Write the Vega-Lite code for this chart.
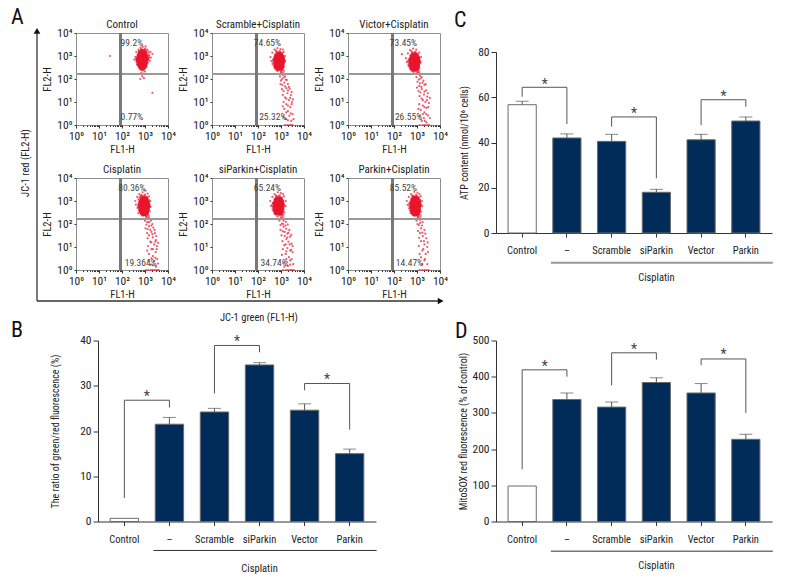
{"$schema":"https://vega.github.io/schema/vega-lite/v6.json","padding":{"left":11,"top":5,"right":0,"bottom":0},"background":"white","config":{"font":"Roboto Condensed, Lato, sans-serif","view":{"stroke":null},"axis":{"grid":false,"labelFontSize":10.5,"titleFontSize":10,"titleFontWeight":"normal","labelColor":"#222","titleColor":"#222","domainColor":"#333","tickColor":"#333","labelOverlap":false,"labelFlush":false},"title":{"fontWeight":"normal","fontSize":22,"color":"#111"}},"datasets":{"bars":[{"panel":"B","g":"Control","v":0.7,"top":0.7},{"panel":"B","g":"–","v":21.5,"top":23},{"panel":"B","g":"Scramble","v":24.2,"top":25},{"panel":"B","g":"siParkin","v":34.6,"top":35.1},{"panel":"B","g":"Vector","v":24.6,"top":26},{"panel":"B","g":"Parkin","v":15,"top":16},{"panel":"C","g":"Control","v":56.7,"top":58.2},{"panel":"C","g":"–","v":42,"top":43.8},{"panel":"C","g":"Scramble","v":40.5,"top":43.6},{"panel":"C","g":"siParkin","v":18,"top":19.3},{"panel":"C","g":"Vector","v":41.2,"top":43.6},{"panel":"C","g":"Parkin","v":49.5,"top":51.3},{"panel":"D","g":"Control","v":98,"top":98},{"panel":"D","g":"–","v":337,"top":355},{"panel":"D","g":"Scramble","v":316,"top":330},{"panel":"D","g":"siParkin","v":384,"top":397},{"panel":"D","g":"Vector","v":355,"top":381},{"panel":"D","g":"Parkin","v":227,"top":241}],"brackets":[{"panel":"B","id":1,"i":0,"g":"Control","v":5.2},{"panel":"B","id":1,"i":1,"g":"Control","v":26.8},{"panel":"B","id":1,"i":2,"g":"–","v":26.8},{"panel":"B","id":1,"i":3,"g":"–","v":25.2},{"panel":"B","id":2,"i":0,"g":"Scramble","v":28.3},{"panel":"B","id":2,"i":1,"g":"Scramble","v":38.9},{"panel":"B","id":2,"i":2,"g":"siParkin","v":38.9},{"panel":"B","id":2,"i":3,"g":"siParkin","v":37.4},{"panel":"B","id":3,"i":0,"g":"Vector","v":29},{"panel":"B","id":3,"i":1,"g":"Vector","v":30.5},{"panel":"B","id":3,"i":2,"g":"Parkin","v":30.5},{"panel":"B","id":3,"i":3,"g":"Parkin","v":20.3},{"panel":"C","id":1,"i":0,"g":"Control","v":60.2},{"panel":"C","id":1,"i":1,"g":"Control","v":64.4},{"panel":"C","id":1,"i":2,"g":"–","v":64.4},{"panel":"C","id":1,"i":3,"g":"–","v":48.2},{"panel":"C","id":2,"i":0,"g":"Scramble","v":47},{"panel":"C","id":2,"i":1,"g":"Scramble","v":51.3},{"panel":"C","id":2,"i":2,"g":"siParkin","v":51.3},{"panel":"C","id":2,"i":3,"g":"siParkin","v":24.2},{"panel":"C","id":3,"i":0,"g":"Vector","v":47.7},{"panel":"C","id":3,"i":1,"g":"Vector","v":58.9},{"panel":"C","id":3,"i":2,"g":"Parkin","v":58.9},{"panel":"C","id":3,"i":3,"g":"Parkin","v":55.8},{"panel":"D","id":1,"i":0,"g":"Control","v":144},{"panel":"D","id":1,"i":1,"g":"Control","v":419},{"panel":"D","id":1,"i":2,"g":"–","v":419},{"panel":"D","id":1,"i":3,"g":"–","v":400},{"panel":"D","id":2,"i":0,"g":"Scramble","v":376},{"panel":"D","id":2,"i":1,"g":"Scramble","v":466},{"panel":"D","id":2,"i":2,"g":"siParkin","v":466},{"panel":"D","id":2,"i":3,"g":"siParkin","v":447},{"panel":"D","id":3,"i":0,"g":"Vector","v":432},{"panel":"D","id":3,"i":1,"g":"Vector","v":449},{"panel":"D","id":3,"i":2,"g":"Parkin","v":449},{"panel":"D","id":3,"i":3,"g":"Parkin","v":300}],"stars":[{"panel":"B","g":"Control","v":27.5},{"panel":"B","g":"Scramble","v":39.6},{"panel":"B","g":"Vector","v":31.2},{"panel":"C","g":"Control","v":65.5},{"panel":"C","g":"Scramble","v":52.5},{"panel":"C","g":"Vector","v":60},{"panel":"D","g":"Control","v":428},{"panel":"D","g":"Scramble","v":475},{"panel":"D","g":"Vector","v":460}],"flow":[
{"p":1,"a":500,"b":1100},{"p":1,"a":580,"b":1350},{"p":1,"a":660,"b":1800},{"p":1,"a":900,"b":1800},{"p":1,"a":1100,"b":1250},{"p":1,"a":1300,"b":1050},{"p":1,"a":1350,"b":700},{"p":1,"a":1200,"b":550},{"p":1,"a":480,"b":480},{"p":1,"a":620,"b":330},{"p":1,"a":830,"b":330},{"p":1,"a":430,"b":750},{"p":1,"a":1500,"b":800},{"p":1,"a":700,"b":2000},{"p":1,"a":950,"b":300},{"p":1,"a":1000,"b":1800},{"p":1,"a":540,"b":500},{"p":1,"a":1450,"b":950},
{"p":2,"a":460,"b":700},{"p":2,"a":540,"b":1100},{"p":2,"a":640,"b":1500},{"p":2,"a":900,"b":1600},{"p":2,"a":1100,"b":1300},{"p":2,"a":1250,"b":950},{"p":2,"a":1350,"b":650},{"p":2,"a":1250,"b":400},{"p":2,"a":480,"b":380},{"p":2,"a":640,"b":260},{"p":2,"a":860,"b":250},{"p":2,"a":1100,"b":270},{"p":2,"a":900,"b":130},{"p":2,"a":1000,"b":85},{"p":2,"a":1300,"b":115},{"p":2,"a":1600,"b":95},{"p":2,"a":950,"b":60},{"p":2,"a":1500,"b":48},{"p":2,"a":2200,"b":45},{"p":2,"a":1100,"b":36},{"p":2,"a":2000,"b":32},{"p":2,"a":2900,"b":27},{"p":2,"a":1200,"b":20},{"p":2,"a":1700,"b":14},{"p":2,"a":2500,"b":15},{"p":2,"a":3300,"b":13},{"p":2,"a":1300,"b":10},{"p":2,"a":2000,"b":7},{"p":2,"a":2900,"b":8},{"p":2,"a":1200,"b":6.5},{"p":2,"a":1700,"b":3.5},{"p":2,"a":2600,"b":3.2},{"p":2,"a":1300,"b":2.2},{"p":2,"a":2000,"b":1.6},{"p":2,"a":3500,"b":1.8},
{"p":3,"a":430,"b":650},{"p":3,"a":510,"b":1050},{"p":3,"a":610,"b":1400},{"p":3,"a":860,"b":1500},{"p":3,"a":1050,"b":1200},{"p":3,"a":1200,"b":900},{"p":3,"a":1300,"b":620},{"p":3,"a":1200,"b":380},{"p":3,"a":450,"b":350},{"p":3,"a":600,"b":240},{"p":3,"a":820,"b":230},{"p":3,"a":1050,"b":250},{"p":3,"a":950,"b":120},{"p":3,"a":1050,"b":75},{"p":3,"a":1400,"b":105},{"p":3,"a":1750,"b":70},{"p":3,"a":1000,"b":42},{"p":3,"a":1550,"b":45},{"p":3,"a":2400,"b":60},{"p":3,"a":1150,"b":30},{"p":3,"a":2100,"b":28},{"p":3,"a":3000,"b":24},{"p":3,"a":1300,"b":18},{"p":3,"a":1800,"b":12},{"p":3,"a":2700,"b":12},{"p":3,"a":3600,"b":15},{"p":3,"a":1250,"b":8},{"p":3,"a":2100,"b":6},{"p":3,"a":3100,"b":6},{"p":3,"a":1150,"b":5},{"p":3,"a":1800,"b":3},{"p":3,"a":2500,"b":3},{"p":3,"a":1350,"b":2.4},{"p":3,"a":2200,"b":1.5},{"p":3,"a":3600,"b":2},
{"p":4,"a":520,"b":1200},{"p":4,"a":600,"b":1450},{"p":4,"a":700,"b":1800},{"p":4,"a":1000,"b":1900},{"p":4,"a":1250,"b":1400},{"p":4,"a":1450,"b":1100},{"p":4,"a":1500,"b":750},{"p":4,"a":1450,"b":420},{"p":4,"a":560,"b":400},{"p":4,"a":700,"b":300},{"p":4,"a":950,"b":260},{"p":4,"a":1300,"b":280},{"p":4,"a":1000,"b":140},{"p":4,"a":1150,"b":95},{"p":4,"a":1500,"b":120},{"p":4,"a":1900,"b":85},{"p":4,"a":1050,"b":65},{"p":4,"a":1700,"b":55},{"p":4,"a":2600,"b":55},{"p":4,"a":1250,"b":40},{"p":4,"a":2100,"b":36},{"p":4,"a":3100,"b":30},{"p":4,"a":1300,"b":24},{"p":4,"a":1900,"b":16},{"p":4,"a":2800,"b":17},{"p":4,"a":3700,"b":15},{"p":4,"a":1350,"b":11},{"p":4,"a":2200,"b":8},{"p":4,"a":3200,"b":8},{"p":4,"a":1250,"b":7},{"p":4,"a":1900,"b":3.2},{"p":4,"a":2800,"b":3.4},{"p":4,"a":1400,"b":2.6},{"p":4,"a":2200,"b":1.6},{"p":4,"a":3700,"b":1.9},
{"p":5,"a":440,"b":800},{"p":5,"a":520,"b":1200},{"p":5,"a":620,"b":1600},{"p":5,"a":880,"b":1750},{"p":5,"a":1100,"b":1400},{"p":5,"a":1250,"b":1050},{"p":5,"a":1350,"b":720},{"p":5,"a":1300,"b":420},{"p":5,"a":470,"b":370},{"p":5,"a":620,"b":260},{"p":5,"a":850,"b":240},{"p":5,"a":1150,"b":260},{"p":5,"a":850,"b":140},{"p":5,"a":950,"b":90},{"p":5,"a":1250,"b":100},{"p":5,"a":1550,"b":85},{"p":5,"a":950,"b":55},{"p":5,"a":1450,"b":45},{"p":5,"a":2100,"b":42},{"p":5,"a":1050,"b":32},{"p":5,"a":1900,"b":26},{"p":5,"a":2800,"b":34},{"p":5,"a":1150,"b":18},{"p":5,"a":1600,"b":13},{"p":5,"a":2400,"b":13},{"p":5,"a":3200,"b":11},{"p":5,"a":1200,"b":8},{"p":5,"a":1700,"b":6.5},{"p":5,"a":2800,"b":7.5},{"p":5,"a":1100,"b":4.5},{"p":5,"a":1700,"b":3},{"p":5,"a":2500,"b":2.6},{"p":5,"a":1250,"b":2},{"p":5,"a":2000,"b":1.5},{"p":5,"a":3400,"b":1.8},
{"p":6,"a":470,"b":800},{"p":6,"a":560,"b":1200},{"p":6,"a":660,"b":1600},{"p":6,"a":950,"b":1800},{"p":6,"a":1150,"b":1450},{"p":6,"a":1350,"b":1100},{"p":6,"a":1450,"b":720},{"p":6,"a":1350,"b":400},{"p":6,"a":500,"b":390},{"p":6,"a":660,"b":280},{"p":6,"a":900,"b":250},{"p":6,"a":1250,"b":270},{"p":6,"a":950,"b":140},{"p":6,"a":1050,"b":100},{"p":6,"a":1350,"b":110},{"p":6,"a":1650,"b":85},{"p":6,"a":1100,"b":50},{"p":6,"a":1700,"b":42},{"p":6,"a":2300,"b":38},{"p":6,"a":1250,"b":25},{"p":6,"a":2000,"b":18},{"p":6,"a":2900,"b":16},{"p":6,"a":1200,"b":11},{"p":6,"a":1900,"b":8},{"p":6,"a":3000,"b":6},{"p":6,"a":1300,"b":5},{"p":6,"a":2200,"b":3},{"p":6,"a":1700,"b":1.8},
{"p":1,"a":520,"b":900,"k":2},{"p":1,"a":1050,"b":950,"k":2},{"p":1,"a":560,"b":600,"k":2},{"p":1,"a":1050,"b":600,"k":2},{"p":1,"a":620,"b":1400,"k":2},{"p":1,"a":950,"b":1400,"k":2},{"p":1,"a":600,"b":420,"k":2},{"p":1,"a":950,"b":430,"k":2},{"p":1,"a":760,"b":1600,"k":2},{"p":1,"a":480,"b":700,"k":2},{"p":1,"a":1150,"b":720,"k":2},{"p":1,"a":760,"b":280,"k":2},
{"p":2,"a":580,"b":800,"k":2},{"p":2,"a":1150,"b":780,"k":2},{"p":2,"a":600,"b":480,"k":2},{"p":2,"a":1150,"b":480,"k":2},{"p":2,"a":680,"b":1150,"k":2},{"p":2,"a":1000,"b":1150,"k":2},{"p":2,"a":700,"b":280,"k":2},{"p":2,"a":1000,"b":290,"k":2},{"p":2,"a":830,"b":1350,"k":2},{"p":2,"a":520,"b":620,"k":2},{"p":2,"a":1250,"b":620,"k":2},{"p":2,"a":1150,"b":220,"k":2},
{"p":3,"a":540,"b":740,"k":2},{"p":3,"a":1080,"b":720,"k":2},{"p":3,"a":560,"b":440,"k":2},{"p":3,"a":1080,"b":440,"k":2},{"p":3,"a":640,"b":1070,"k":2},{"p":3,"a":950,"b":1070,"k":2},{"p":3,"a":650,"b":260,"k":2},{"p":3,"a":950,"b":270,"k":2},{"p":3,"a":780,"b":1250,"k":2},{"p":3,"a":480,"b":570,"k":2},{"p":3,"a":1180,"b":570,"k":2},{"p":3,"a":1100,"b":200,"k":2},
{"p":4,"a":640,"b":900,"k":2},{"p":4,"a":1270,"b":900,"k":2},{"p":4,"a":650,"b":500,"k":2},{"p":4,"a":1280,"b":500,"k":2},{"p":4,"a":750,"b":1300,"k":2},{"p":4,"a":1100,"b":1300,"k":2},{"p":4,"a":750,"b":290,"k":2},{"p":4,"a":1150,"b":290,"k":2},{"p":4,"a":910,"b":1500,"k":2},{"p":4,"a":570,"b":660,"k":2},{"p":4,"a":1380,"b":660,"k":2},{"p":4,"a":1300,"b":210,"k":2},
{"p":5,"a":540,"b":820,"k":2},{"p":5,"a":1080,"b":800,"k":2},{"p":5,"a":560,"b":500,"k":2},{"p":5,"a":1080,"b":500,"k":2},{"p":5,"a":640,"b":1200,"k":2},{"p":5,"a":950,"b":1200,"k":2},{"p":5,"a":650,"b":300,"k":2},{"p":5,"a":950,"b":300,"k":2},{"p":5,"a":780,"b":1400,"k":2},{"p":5,"a":480,"b":640,"k":2},{"p":5,"a":1180,"b":640,"k":2},{"p":5,"a":1100,"b":230,"k":2},
{"p":6,"a":600,"b":900,"k":2},{"p":6,"a":1180,"b":880,"k":2},{"p":6,"a":610,"b":500,"k":2},{"p":6,"a":1180,"b":500,"k":2},{"p":6,"a":700,"b":1280,"k":2},{"p":6,"a":1030,"b":1280,"k":2},{"p":6,"a":700,"b":290,"k":2},{"p":6,"a":1030,"b":290,"k":2},{"p":6,"a":850,"b":1500,"k":2},{"p":6,"a":530,"b":660,"k":2},{"p":6,"a":1280,"b":660,"k":2},{"p":6,"a":1250,"b":220,"k":2},
{"p":1,"a":270,"b":3800,"t":"99.2%"},{"p":1,"a":270,"b":2.2,"t":"0.77%"},{"p":2,"a":257,"b":3800,"t":"74.65%"},{"p":2,"a":440,"b":2.2,"t":"25.32%"},{"p":3,"a":257,"b":3800,"t":"73.45%"},{"p":3,"a":430,"b":2.2,"t":"26.55%"},{"p":4,"a":270,"b":3800,"t":"80.36%"},{"p":4,"a":650,"b":2,"t":"19.364%"},{"p":5,"a":257,"b":3800,"t":"65.24%"},{"p":5,"a":500,"b":2,"t":"34.74%"},{"p":6,"a":257,"b":3800,"t":"85.52%"},{"p":6,"a":470,"b":2,"t":"14.47%"},
{"p":1,"a":420,"b":1500},{"p":1,"a":520,"b":1900},{"p":1,"a":640,"b":2300},{"p":1,"a":800,"b":2500},{"p":1,"a":1000,"b":2100},{"p":1,"a":1300,"b":1700},{"p":1,"a":1700,"b":1500},{"p":1,"a":2100,"b":1250},{"p":1,"a":480,"b":1150},{"p":1,"a":380,"b":900},{"p":1,"a":340,"b":700},{"p":1,"a":430,"b":550},{"p":1,"a":1500,"b":1100},{"p":1,"a":1800,"b":850},{"p":1,"a":1600,"b":620},{"p":1,"a":1300,"b":500},{"p":1,"a":1150,"b":340},{"p":1,"a":1400,"b":1400},{"p":1,"a":560,"b":380},{"p":1,"a":450,"b":420},{"p":1,"a":600,"b":280},{"p":1,"a":760,"b":240},{"p":1,"a":900,"b":260},{"p":1,"a":1000,"b":210},{"p":1,"a":680,"b":180},{"p":1,"a":820,"b":170},{"p":1,"a":760,"b":130},{"p":1,"a":900,"b":110},{"p":1,"a":620,"b":100},{"p":1,"a":1200,"b":1900},{"p":1,"a":560,"b":1600},{"p":1,"a":1100,"b":1500},{"p":1,"a":1250,"b":800},{"p":1,"a":520,"b":800},{"p":1,"a":500,"b":600},{"p":1,"a":1100,"b":400},{"p":1,"a":1050,"b":2600},{"p":1,"a":30,"b":1000},{"p":1,"a":2100,"b":25},
{"p":2,"a":350,"b":900},{"p":2,"a":420,"b":1400},{"p":2,"a":520,"b":1900},{"p":2,"a":700,"b":2200},{"p":2,"a":950,"b":2000},{"p":2,"a":1300,"b":1500},{"p":2,"a":1500,"b":1000},{"p":2,"a":1500,"b":600},{"p":2,"a":430,"b":450},{"p":2,"a":380,"b":600},{"p":2,"a":600,"b":1700},{"p":2,"a":1200,"b":1900},{"p":2,"a":520,"b":300},{"p":2,"a":1300,"b":350},{"p":2,"a":700,"b":220},{"p":2,"a":1000,"b":200},{"p":2,"a":1200,"b":150},{"p":2,"a":1500,"b":130},{"p":2,"a":1100,"b":100},{"p":2,"a":1800,"b":90},{"p":2,"a":1400,"b":70},{"p":2,"a":2000,"b":60},{"p":2,"a":1150,"b":55},{"p":2,"a":1700,"b":40},{"p":2,"a":2400,"b":38},{"p":2,"a":1300,"b":30},{"p":2,"a":1900,"b":24},{"p":2,"a":2700,"b":20},{"p":2,"a":1500,"b":16},{"p":2,"a":2200,"b":12},{"p":2,"a":3000,"b":10},{"p":2,"a":1700,"b":8},{"p":2,"a":2500,"b":6},{"p":2,"a":1400,"b":5},{"p":2,"a":2000,"b":4},{"p":2,"a":3200,"b":3},{"p":2,"a":2300,"b":2.5},{"p":2,"a":1700,"b":1.8},{"p":2,"a":2800,"b":1.5},{"p":2,"a":1500,"b":1},{"p":2,"a":1900,"b":1},{"p":2,"a":2300,"b":1},{"p":2,"a":2700,"b":1},{"p":2,"a":3200,"b":1},
{"p":3,"a":330,"b":800},{"p":3,"a":400,"b":1300},{"p":3,"a":500,"b":1800},{"p":3,"a":680,"b":2100},{"p":3,"a":930,"b":1900},{"p":3,"a":1250,"b":1400},{"p":3,"a":1500,"b":900},{"p":3,"a":1450,"b":520},{"p":3,"a":420,"b":400},{"p":3,"a":360,"b":550},{"p":3,"a":580,"b":1600},{"p":3,"a":220,"b":1200},{"p":3,"a":500,"b":280},{"p":3,"a":1250,"b":300},{"p":3,"a":700,"b":200},{"p":3,"a":1100,"b":190},{"p":3,"a":1350,"b":140},{"p":3,"a":1600,"b":120},{"p":3,"a":1200,"b":95},{"p":3,"a":1900,"b":85},{"p":3,"a":1350,"b":65},{"p":3,"a":2100,"b":55},{"p":3,"a":1250,"b":50},{"p":3,"a":1600,"b":36},{"p":3,"a":2500,"b":32},{"p":3,"a":1400,"b":26},{"p":3,"a":2000,"b":21},{"p":3,"a":2800,"b":17},{"p":3,"a":1600,"b":14},{"p":3,"a":2300,"b":10},{"p":3,"a":3300,"b":9},{"p":3,"a":1800,"b":7},{"p":3,"a":2600,"b":5.5},{"p":3,"a":1450,"b":4.5},{"p":3,"a":2100,"b":3.5},{"p":3,"a":3000,"b":2.6},{"p":3,"a":2000,"b":2},{"p":3,"a":1600,"b":1.5},{"p":3,"a":2600,"b":1.3},{"p":3,"a":1300,"b":1},{"p":3,"a":1800,"b":1},{"p":3,"a":2200,"b":1},{"p":3,"a":2800,"b":1},{"p":3,"a":3400,"b":1},
{"p":4,"a":380,"b":1000},{"p":4,"a":460,"b":1500},{"p":4,"a":570,"b":2000},{"p":4,"a":780,"b":2400},{"p":4,"a":1050,"b":2800},{"p":4,"a":1500,"b":1600},{"p":4,"a":1700,"b":1000},{"p":4,"a":1750,"b":550},{"p":4,"a":470,"b":500},{"p":4,"a":400,"b":700},{"p":4,"a":650,"b":1700},{"p":4,"a":1300,"b":2100},{"p":4,"a":520,"b":300},{"p":4,"a":1600,"b":350},{"p":4,"a":800,"b":230},{"p":4,"a":1150,"b":210},{"p":4,"a":1400,"b":170},{"p":4,"a":1800,"b":140},{"p":4,"a":1250,"b":120},{"p":4,"a":2100,"b":100},{"p":4,"a":1500,"b":80},{"p":4,"a":2300,"b":70},{"p":4,"a":1300,"b":60},{"p":4,"a":1900,"b":45},{"p":4,"a":2700,"b":40},{"p":4,"a":1500,"b":32},{"p":4,"a":2200,"b":26},{"p":4,"a":3000,"b":20},{"p":4,"a":1700,"b":17},{"p":4,"a":2500,"b":13},{"p":4,"a":3300,"b":11},{"p":4,"a":1900,"b":8},{"p":4,"a":2900,"b":6},{"p":4,"a":1500,"b":5},{"p":4,"a":2200,"b":4},{"p":4,"a":3400,"b":3},{"p":4,"a":2500,"b":2.4},{"p":4,"a":1800,"b":1.7},{"p":4,"a":3000,"b":1.4},{"p":4,"a":1100,"b":1},{"p":4,"a":1400,"b":1},{"p":4,"a":1800,"b":1},{"p":4,"a":2200,"b":1},{"p":4,"a":2700,"b":1},{"p":4,"a":3300,"b":1},{"p":4,"a":3900,"b":1},
{"p":5,"a":340,"b":1000},{"p":5,"a":420,"b":1500},{"p":5,"a":520,"b":2000},{"p":5,"a":720,"b":2400},{"p":5,"a":1000,"b":2200},{"p":5,"a":1350,"b":1600},{"p":5,"a":1600,"b":1000},{"p":5,"a":1600,"b":600},{"p":5,"a":430,"b":430},{"p":5,"a":370,"b":620},{"p":5,"a":600,"b":1700},{"p":5,"a":1250,"b":2000},{"p":5,"a":520,"b":280},{"p":5,"a":1400,"b":320},{"p":5,"a":700,"b":210},{"p":5,"a":1050,"b":180},{"p":5,"a":1300,"b":140},{"p":5,"a":1650,"b":125},{"p":5,"a":1100,"b":105},{"p":5,"a":1950,"b":95},{"p":5,"a":1300,"b":75},{"p":5,"a":1700,"b":62},{"p":5,"a":2300,"b":55},{"p":5,"a":1200,"b":48},{"p":5,"a":1900,"b":38},{"p":5,"a":1450,"b":30},{"p":5,"a":2500,"b":28},{"p":5,"a":1700,"b":22},{"p":5,"a":2100,"b":17},{"p":5,"a":2900,"b":14},{"p":5,"a":1400,"b":12},{"p":5,"a":1900,"b":9},{"p":5,"a":2500,"b":7},{"p":5,"a":3200,"b":6},{"p":5,"a":1600,"b":5},{"p":5,"a":2200,"b":3.6},{"p":5,"a":2900,"b":3},{"p":5,"a":1800,"b":2.2},{"p":5,"a":2500,"b":1.7},{"p":5,"a":1400,"b":1.4},{"p":5,"a":1200,"b":1},{"p":5,"a":1600,"b":1},{"p":5,"a":2000,"b":1},{"p":5,"a":2500,"b":1},{"p":5,"a":3000,"b":1},{"p":5,"a":3600,"b":1},
{"p":6,"a":360,"b":1000},{"p":6,"a":440,"b":1500},{"p":6,"a":560,"b":2000},{"p":6,"a":760,"b":2500},{"p":6,"a":1050,"b":2300},{"p":6,"a":1450,"b":1600},{"p":6,"a":1650,"b":1000},{"p":6,"a":1700,"b":600},{"p":6,"a":450,"b":480},{"p":6,"a":390,"b":680},{"p":6,"a":620,"b":1700},{"p":6,"a":1300,"b":2000},{"p":6,"a":520,"b":300},{"p":6,"a":1500,"b":340},{"p":6,"a":750,"b":230},{"p":6,"a":1100,"b":200},{"p":6,"a":1400,"b":150},{"p":6,"a":1750,"b":120},{"p":6,"a":1200,"b":90},{"p":6,"a":1500,"b":65},{"p":6,"a":2100,"b":55},{"p":6,"a":1350,"b":40},{"p":6,"a":1800,"b":30},{"p":6,"a":2500,"b":24},{"p":6,"a":1500,"b":18},{"p":6,"a":2100,"b":13},{"p":6,"a":2800,"b":10},{"p":6,"a":1700,"b":7},{"p":6,"a":2400,"b":5},{"p":6,"a":1500,"b":3.5},{"p":6,"a":2100,"b":2.6},{"p":6,"a":2800,"b":1.8},{"p":6,"a":1300,"b":1},{"p":6,"a":1700,"b":1},{"p":6,"a":2100,"b":1},{"p":6,"a":2600,"b":1},{"p":6,"a":3200,"b":1},
{"p":1,"a":760,"b":1250,"k":1},{"p":1,"a":700,"b":1000,"k":1},{"p":1,"a":850,"b":1000,"k":1},{"p":1,"a":760,"b":800,"k":1},{"p":1,"a":620,"b":700,"k":1},{"p":1,"a":900,"b":700,"k":1},{"p":1,"a":760,"b":560,"k":1},{"p":1,"a":680,"b":460,"k":1},{"p":1,"a":840,"b":460,"k":1},{"p":1,"a":760,"b":370,"k":1},
{"p":2,"a":830,"b":950,"k":1},{"p":2,"a":740,"b":800,"k":1},{"p":2,"a":930,"b":800,"k":1},{"p":2,"a":830,"b":620,"k":1},{"p":2,"a":720,"b":560,"k":1},{"p":2,"a":950,"b":560,"k":1},{"p":2,"a":830,"b":440,"k":1},{"p":2,"a":760,"b":370,"k":1},{"p":2,"a":900,"b":370,"k":1},
{"p":3,"a":780,"b":900,"k":1},{"p":3,"a":700,"b":740,"k":1},{"p":3,"a":880,"b":740,"k":1},{"p":3,"a":780,"b":580,"k":1},{"p":3,"a":670,"b":510,"k":1},{"p":3,"a":890,"b":510,"k":1},{"p":3,"a":780,"b":400,"k":1},{"p":3,"a":710,"b":340,"k":1},{"p":3,"a":850,"b":340,"k":1},
{"p":4,"a":910,"b":1050,"k":1},{"p":4,"a":820,"b":850,"k":1},{"p":4,"a":1020,"b":850,"k":1},{"p":4,"a":910,"b":650,"k":1},{"p":4,"a":760,"b":600,"k":1},{"p":4,"a":1090,"b":600,"k":1},{"p":4,"a":910,"b":480,"k":1},{"p":4,"a":820,"b":400,"k":1},{"p":4,"a":1000,"b":400,"k":1},{"p":4,"a":910,"b":340,"k":1},
{"p":5,"a":780,"b":1000,"k":1},{"p":5,"a":700,"b":820,"k":1},{"p":5,"a":880,"b":820,"k":1},{"p":5,"a":780,"b":640,"k":1},{"p":5,"a":670,"b":580,"k":1},{"p":5,"a":890,"b":580,"k":1},{"p":5,"a":780,"b":460,"k":1},{"p":5,"a":710,"b":380,"k":1},{"p":5,"a":850,"b":380,"k":1},
{"p":6,"a":850,"b":1050,"k":1},{"p":6,"a":770,"b":860,"k":1},{"p":6,"a":950,"b":860,"k":1},{"p":6,"a":850,"b":660,"k":1},{"p":6,"a":730,"b":600,"k":1},{"p":6,"a":970,"b":600,"k":1},{"p":6,"a":850,"b":470,"k":1},{"p":6,"a":770,"b":390,"k":1},{"p":6,"a":930,"b":390,"k":1},{"p":6,"a":850,"b":330,"k":1}
]},
"bounds":"flush","spacing":307.5,"vconcat":[
{"bounds":"flush","spacing":459,"hconcat":[
{"bounds":"flush","spacing":0,"hconcat":[
{"width":39,"height":268,"data":{"values":[{"x":"JC-1 green (FL1-H)","y":"JC-1 red (FL2-H)"}]},"title":{"text":"A","anchor":"start","frame":"group","dx":-26,"dy":5},"layer":[
{"mark":{"type":"rule","color":"#333","strokeWidth":1.3},"encoding":{"x":{"datum":0,"type":"quantitative","scale":{"domain":[0,1]},"axis":null},"y":{"datum":0,"type":"quantitative","scale":{"domain":[0,1]},"axis":null},"y2":{"datum":1}}},
{"mark":{"type":"rule","color":"#333","strokeWidth":1.3},"encoding":{"x":{"datum":0,"type":"quantitative"},"x2":{"datum":10.3},"y":{"datum":0,"type":"quantitative"}}},
{"mark":{"type":"point","shape":"triangle-up","filled":true,"color":"#111","size":45,"opacity":1},"encoding":{"x":{"datum":0,"type":"quantitative"},"y":{"datum":1.008,"type":"quantitative"}}},
{"mark":{"type":"point","shape":"triangle-right","filled":true,"color":"#111","size":45,"opacity":1},"encoding":{"x":{"datum":10.35,"type":"quantitative"},"y":{"datum":0,"type":"quantitative"}}},
{"mark":{"type":"text","angle":270,"fontSize":10.5,"color":"#222"},"encoding":{"x":{"datum":-0.28,"type":"quantitative"},"y":{"datum":0.515,"type":"quantitative"},"text":{"field":"y"}}},
{"mark":{"type":"text","fontSize":10.5,"color":"#222"},"encoding":{"x":{"datum":5.69,"type":"quantitative"},"y":{"datum":-0.063,"type":"quantitative"},"text":{"field":"x"}}}
]},
{"data":{"name":"flow"},"bounds":"flush","columns":3,"spacing":{"column":44,"row":53},"facet":{"field":"p","type":"ordinal","title":null,"header":{"labelFontSize":11,"labelColor":"#222","labelPadding":-3,"labelExpr":"['Control','Scramble+Cisplatin','Victor+Cisplatin','Cisplatin','siParkin+Cisplatin','Parkin+Cisplatin'][datum.value-1]"}},"resolve":{"axis":{"x":"independent","y":"independent"}},"spec":{"width":92,"height":92,"view":{"stroke":"#8f8f8f"},"layer":[
{"transform":[{"filter":"!datum.t"}],"mark":{"type":"point","filled":true,"color":"#e8162c","clip":false},"encoding":{"x":{"field":"a","type":"quantitative","scale":{"type":"log","domain":[1,10000],"nice":false},"axis":{"values":[1,2,3,4,5,6,7,8,9,10,20,30,40,50,60,70,80,90,100,200,300,400,500,600,700,800,900,1000,2000,3000,4000,5000,6000,7000,8000,9000,10000],"domain":false,"title":"FL1-H","titleFontSize":10.5,"titlePadding":3,"labelFontSize":11.5,"labelPadding":2,"tickSize":{"condition":{"test":"indexof([1,10,100,1000,10000],datum.value)>=0","value":3},"value":1.5},"labelExpr":"datum.value==1?'10⁰':datum.value==10?'10¹':datum.value==100?'10²':datum.value==1000?'10³':datum.value==10000?'10⁴':''"}},"y":{"field":"b","type":"quantitative","scale":{"type":"log","domain":[1,10000],"nice":false},"axis":{"values":[1,10,100,1000,10000],"domain":false,"title":"FL2-H","titleFontSize":10.5,"titlePadding":4,"tickSize":2,"labelFontSize":11.5,"labelPadding":2,"labelExpr":"datum.value==1?'10⁰':datum.value==10?'10¹':datum.value==100?'10²':datum.value==1000?'10³':'10⁴'"}},"size":{"condition":[{"test":"datum.k==1","value":80},{"test":"datum.k==2","value":26}],"value":5},"opacity":{"condition":[{"test":"datum.k==1","value":1},{"test":"datum.k==2","value":0.55}],"value":0.7}}},
{"mark":{"type":"rule","color":"#999","strokeWidth":1.5},"encoding":{"y":{"datum":160,"type":"quantitative"}}},
{"mark":{"type":"rule","color":"#7a7a7a","strokeWidth":1.5},"encoding":{"x":{"datum":85,"type":"quantitative"}}},
{"transform":[{"filter":"datum.t"}],"mark":{"type":"text","fontSize":9.5,"color":"#444"},"encoding":{"x":{"field":"a","type":"quantitative"},"y":{"field":"b","type":"quantitative"},"text":{"field":"t"}}}
]}}
]},
{"width":276,"height":200,"data":{"name":"bars"},"title":{"text":"C","anchor":"start","frame":"group","dx":-42,"dy":3},"layer":[
{"transform":[{"filter":"datum.panel=='C'"}],"mark":{"type":"bar","stroke":"#6b6b6b","strokeWidth":1},"encoding":{"x":{"field":"g","type":"nominal","sort":null,"scale":{"domain":["Control","–","Scramble","siParkin","Vector","Parkin"],"paddingInner":0.37,"paddingOuter":0.27},"axis":{"title":null,"labelAngle":0,"tickSize":4,"labelPadding":8}},"y":{"field":"v","type":"quantitative","scale":{"domain":[0,80],"range":[200,19],"nice":false},"axis":{"values":[0,20,40,60,80],"labelFontSize":11.5,"title":"ATP content (nmol/10⁶ cells)","tickSize":5,"titlePadding":8}},"fill":{"condition":{"test":"datum.g=='Control'","value":"#ffffff"},"value":"#012c5a"}}},
{"transform":[{"filter":"datum.panel=='C'&&datum.top>datum.v"}],"mark":{"type":"rule","color":"#555"},"encoding":{"x":{"field":"g","type":"nominal"},"y":{"field":"v","type":"quantitative"},"y2":{"field":"top"}}},
{"transform":[{"filter":"datum.panel=='C'&&datum.top>datum.v"}],"mark":{"type":"tick","color":"#555","size":13,"thickness":1},"encoding":{"x":{"field":"g","type":"nominal"},"y":{"field":"top","type":"quantitative"}}},
{"data":{"name":"brackets"},"transform":[{"filter":"datum.panel=='C'"}],"mark":{"type":"line","color":"#555","strokeWidth":1},"encoding":{"x":{"field":"g","type":"nominal"},"y":{"field":"v","type":"quantitative"},"detail":{"field":"id"},"order":{"field":"i"}}},
{"data":{"name":"stars"},"transform":[{"filter":"datum.panel=='C'"}],"mark":{"type":"text","text":"*","fontSize":14,"color":"#444","dx":22.5},"encoding":{"x":{"field":"g","type":"nominal"},"y":{"field":"v","type":"quantitative"}}},
{"data":{"values":[{"group":"Cisplatin"}]},"mark":{"type":"rule","color":"#999","strokeWidth":2,"xOffset":-16,"x2Offset":27},"encoding":{"x":{"datum":"–","type":"nominal"},"x2":{"datum":"Parkin"},"y":{"datum":-13.1,"type":"quantitative"}}},
{"data":{"values":[{"group":"Cisplatin"}]},"mark":{"type":"text","fontSize":10.5,"color":"#222"},"encoding":{"x":{"datum":"siParkin","type":"nominal"},"y":{"datum":-20,"type":"quantitative"},"text":{"field":"group"}}}
]}
]},
{"bounds":"flush","spacing":120,"hconcat":[
{"width":339,"height":181,"data":{"name":"bars"},"title":{"text":"B","anchor":"start","frame":"group","dx":-26,"dy":11},"layer":[
{"transform":[{"filter":"datum.panel=='B'"}],"mark":{"type":"bar","stroke":"#6b6b6b","strokeWidth":1},"encoding":{"x":{"field":"g","type":"nominal","sort":null,"scale":{"domain":["Control","–","Scramble","siParkin","Vector","Parkin"],"range":[61,339],"paddingInner":0.37,"paddingOuter":0.27},"axis":{"title":null,"labelAngle":0,"tickSize":4,"labelPadding":9}},"y":{"field":"v","type":"quantitative","scale":{"domain":[0,40],"nice":false},"axis":{"values":[0,10,20,30,40],"labelFontSize":11.5,"offset":-61,"title":"The ratio of green/red fluorescence (%)","tickSize":5,"titlePadding":19}},"fill":{"condition":{"test":"datum.g=='Control'","value":"#ffffff"},"value":"#012c5a"}}},
{"transform":[{"filter":"datum.panel=='B'&&datum.top>datum.v"}],"mark":{"type":"rule","color":"#555"},"encoding":{"x":{"field":"g","type":"nominal"},"y":{"field":"v","type":"quantitative"},"y2":{"field":"top"}}},
{"transform":[{"filter":"datum.panel=='B'&&datum.top>datum.v"}],"mark":{"type":"tick","color":"#555","size":13,"thickness":1},"encoding":{"x":{"field":"g","type":"nominal"},"y":{"field":"top","type":"quantitative"}}},
{"data":{"name":"brackets"},"transform":[{"filter":"datum.panel=='B'"}],"mark":{"type":"line","color":"#555","strokeWidth":1},"encoding":{"x":{"field":"g","type":"nominal"},"y":{"field":"v","type":"quantitative"},"detail":{"field":"id"},"order":{"field":"i"}}},
{"data":{"name":"stars"},"transform":[{"filter":"datum.panel=='B'"}],"mark":{"type":"text","text":"*","fontSize":14,"color":"#444","dx":22.5},"encoding":{"x":{"field":"g","type":"nominal"},"y":{"field":"v","type":"quantitative"}}},
{"data":{"values":[{"group":"Cisplatin"}]},"mark":{"type":"rule","color":"#333","strokeWidth":1,"xOffset":-16,"x2Offset":27},"encoding":{"x":{"datum":"–","type":"nominal"},"x2":{"datum":"Parkin"},"y":{"datum":-6.4,"type":"quantitative"}}},
{"data":{"values":[{"group":"Cisplatin"}]},"mark":{"type":"text","fontSize":10.5,"color":"#222"},"encoding":{"x":{"datum":"siParkin","type":"nominal"},"y":{"datum":-10.4,"type":"quantitative"},"text":{"field":"group"}}}
]},
{"width":276,"height":181,"data":{"name":"bars"},"title":{"text":"D","anchor":"start","frame":"group","dx":-41,"dy":12},"layer":[
{"transform":[{"filter":"datum.panel=='D'"}],"mark":{"type":"bar","stroke":"#6b6b6b","strokeWidth":1},"encoding":{"x":{"field":"g","type":"nominal","sort":null,"scale":{"domain":["Control","–","Scramble","siParkin","Vector","Parkin"],"paddingInner":0.37,"paddingOuter":0.27},"axis":{"title":null,"labelAngle":0,"tickSize":4,"labelPadding":9}},"y":{"field":"v","type":"quantitative","scale":{"domain":[0,500],"nice":false},"axis":{"tickCount":5,"labelOverlap":false,"labelFontSize":11.5,"title":"MitoSOX red fluorescence (% of control)","tickSize":5,"titlePadding":3}},"fill":{"condition":{"test":"datum.g=='Control'","value":"#ffffff"},"value":"#012c5a"}}},
{"transform":[{"filter":"datum.panel=='D'&&datum.top>datum.v"}],"mark":{"type":"rule","color":"#555"},"encoding":{"x":{"field":"g","type":"nominal"},"y":{"field":"v","type":"quantitative"},"y2":{"field":"top"}}},
{"transform":[{"filter":"datum.panel=='D'&&datum.top>datum.v"}],"mark":{"type":"tick","color":"#555","size":13,"thickness":1},"encoding":{"x":{"field":"g","type":"nominal"},"y":{"field":"top","type":"quantitative"}}},
{"data":{"name":"brackets"},"transform":[{"filter":"datum.panel=='D'"}],"mark":{"type":"line","color":"#555","strokeWidth":1},"encoding":{"x":{"field":"g","type":"nominal"},"y":{"field":"v","type":"quantitative"},"detail":{"field":"id"},"order":{"field":"i"}}},
{"data":{"name":"stars"},"transform":[{"filter":"datum.panel=='D'"}],"mark":{"type":"text","text":"*","fontSize":14,"color":"#444","dx":22.5},"encoding":{"x":{"field":"g","type":"nominal"},"y":{"field":"v","type":"quantitative"}}},
{"data":{"values":[{"group":"Cisplatin"}]},"mark":{"type":"rule","color":"#333","strokeWidth":1,"xOffset":-16,"x2Offset":27},"encoding":{"x":{"datum":"–","type":"nominal"},"x2":{"datum":"Parkin"},"y":{"datum":-82,"type":"quantitative"}}},
{"data":{"values":[{"group":"Cisplatin"}]},"mark":{"type":"text","fontSize":10.5,"color":"#222"},"encoding":{"x":{"datum":"siParkin","type":"nominal"},"y":{"datum":-122,"type":"quantitative"},"text":{"field":"group"}}}
]}
]}
]}
